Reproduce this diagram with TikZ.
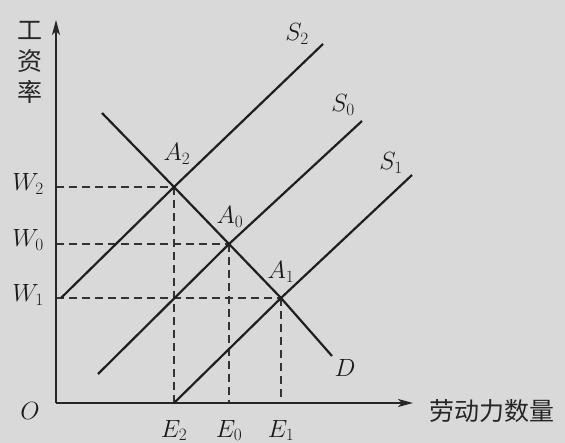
\documentclass[tikz,border=0pt]{standalone}
\usepackage{fontspec}
\newfontfamily\cjk{Noto Sans CJK SC}
\usetikzlibrary{arrows.meta,calc,positioning}

\begin{document}
\begin{tikzpicture}[
  x=1pt, y=-1pt,
  font=\fontsize{23}{26}\selectfont,
  axis/.style={-{Stealth[length=15pt,width=8pt,inset=4pt]}, line width=1.3pt, draw=black!85},
  curve/.style={line width=2.2pt, draw=black!88},
  guide/.style={line width=1.2pt, draw=black!80, dash pattern=on 8pt off 5pt},
  lbl/.style={inner sep=1pt, text=black!90},
  zh/.style={inner sep=1pt, text=black!85, font=\cjk\fontsize{25}{31}\selectfont}
]

% Canvas and background tone.
\useasboundingbox (0,0) rectangle (565,443);
\fill[black!15] (0,0) rectangle (565,443);

% Axis levels (pixel coordinates, y downwards).
\def\xO{56}
\def\yO{403}

\coordinate (O) at (\xO,\yO);
\coordinate (ytip) at (\xO,20);
\coordinate (xtip) at (413,\yO);

% Equilibrium points.
\coordinate (A2) at (174,187);
\coordinate (A0) at (229,244);
\coordinate (A1) at (281,298);

% Projections onto the axes.
\coordinate (W2) at (\xO,187);
\coordinate (W0) at (\xO,244);
\coordinate (W1) at (\xO,298);
\coordinate (E2) at (174,\yO);
\coordinate (E0) at (229,\yO);
\coordinate (E1) at (281,\yO);

% Curve end points.
\coordinate (S2a) at (61,298);
\coordinate (S2b) at (323,44);
\coordinate (S0a) at (98,374);
\coordinate (S0b) at (362,121);
\coordinate (S1b) at (412,175);
\coordinate (Da) at (102,113);
\coordinate (Db) at (332,356);

% Guide lines.
\foreach \p/\w/\e in {A2/W2/E2, A0/W0/E0, A1/W1/E1} {
  \draw[guide] (\w) -- (\p);
  \draw[guide] (\p) -- (\e);
}

% Axes.
\draw[axis] (O) -- (ytip);
\draw[axis] (O) -- (xtip);

% Supply and demand curves.
\draw[curve] (S2a) -- (A2) -- (S2b);
\draw[curve] (S0a) -- (A0) -- (S0b);
\draw[curve] (E2) -- (A1) -- (S1b);
\draw[curve] (Da) -- (A2) -- (A0) -- (A1) -- (Db);

% Curve labels.
\node[lbl] (lS2) at (297,34) {$S_2$};
\node[lbl] (lS0) at (343,105) {$S_0$};
\node[lbl] (lS1) at (391,163) {$S_1$};
\node[lbl] (lD) at (345,368) {$D$};
\node[lbl] (lA2) at (177,154) {$A_2$};
\node[lbl] (lA0) at (230,217) {$A_0$};
\node[lbl] (lA1) at (281,272) {$A_1$};

% Axis labels.
\node[lbl] (lW2) at (28,184) {$W_2$};
\node[lbl] (lW0) at (28,240) {$W_0$};
\node[lbl] (lW1) at (28,295) {$W_1$};
\node[lbl] (lO) at (30,411) {$O$};
\node[lbl, anchor=south] (lE2) at (174,442) {$E_2$};
\node[lbl, anchor=south] (lE0) at (229,442) {$E_0$};
\node[lbl, anchor=south] (lE1) at (281,442) {$E_1$};

\node[zh, align=center] (ylab) at (30,62) {工\\资\\率};
\node[zh, anchor=west] (xlab) at (428,411) {劳动力数量};

\end{tikzpicture}
\end{document}
